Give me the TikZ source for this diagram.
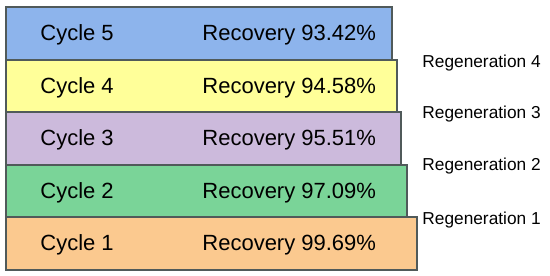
\documentclass[tikz,border=0pt]{standalone}
\usepackage{fontspec}
\setmainfont{Liberation Sans}
\definecolor{barblue}{RGB}{141,180,236}
\definecolor{baryellow}{RGB}{255,255,153}
\definecolor{barpurple}{RGB}{204,186,220}
\definecolor{bargreen}{RGB}{122,212,152}
\definecolor{barorange}{RGB}{251,201,143}
\definecolor{barline}{RGB}{80,90,90}
\tikzset{
  bar/.style={draw=barline, line width=0.6pt},
  cyclelabel/.style={anchor=base west, inner sep=0pt, font=\fontsize{11}{13}\selectfont},
  reglabel/.style={anchor=base west, inner sep=0pt, font=\fontsize{8.65}{10}\selectfont}
}
\begin{document}
\begin{tikzpicture}[x=0.5pt, y=-0.5pt]

		% Cadre
		\useasboundingbox (0,0) rectangle (550,276);

		% Barres des cycles
		\draw[bar, fill=barblue]   (6,7)   rectangle (392,60);
		\draw[bar, fill=baryellow] (6,60)  rectangle (397,112);
		\draw[bar, fill=barpurple] (6,112) rectangle (401,165);
		\draw[bar, fill=bargreen]  (6,165) rectangle (407,217);
		\draw[bar, fill=barorange] (6,217) rectangle (417,270);

		% Labels des cycles
		\node[cyclelabel] (cyc5) at (40,41)  {Cycle 5};
		\node[cyclelabel] (cyc4) at (40,94)  {Cycle 4};
		\node[cyclelabel] (cyc3) at (40,146) {Cycle 3};
		\node[cyclelabel] (cyc2) at (40,199) {Cycle 2};
		\node[cyclelabel] (cyc1) at (40,251) {Cycle 1};

		% Taux de récupération
		\node[cyclelabel] (rec5) at (202,41)  {Recovery 93.42\%};
		\node[cyclelabel] (rec4) at (202,94)  {Recovery 94.58\%};
		\node[cyclelabel] (rec3) at (202,146) {Recovery 95.51\%};
		\node[cyclelabel] (rec2) at (202,199) {Recovery 97.09\%};
		\node[cyclelabel] (rec1) at (202,251) {Recovery 99.69\%};

		% Régénérations
		\node[reglabel] (reg4) at (422,68)  {Regeneration 4};
		\node[reglabel] (reg3) at (422,119) {Regeneration 3};
		\node[reglabel] (reg2) at (422,171) {Regeneration 2};
		\node[reglabel] (reg1) at (422,225) {Regeneration 1};

\end{tikzpicture}
\end{document}
